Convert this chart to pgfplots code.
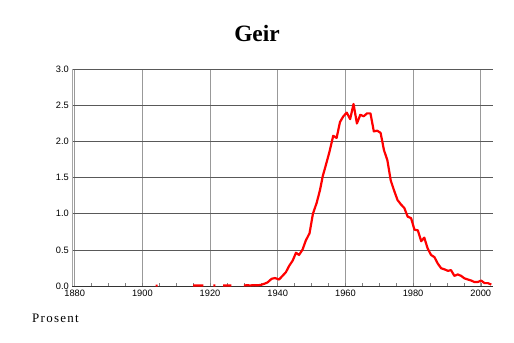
\documentclass[border=0pt]{standalone}
\usepackage{fontspec}
\setmainfont{Liberation Serif}
\newfontfamily\arial{Liberation Sans}
\usepackage{pgfplots}
\pgfplotsset{compat=1.18}
\begin{document}
\begin{tikzpicture}
\path[use as bounding box] (-72.3bp,-57bp) rectangle (441.7bp,286bp);
\begin{axis}[
  at={(0,0)}, anchor=south west,
  scale only axis, width=421bp, height=216.7bp,
  xmin=1879.3, xmax=2003.7, ymin=0, ymax=3,
  axis x line=bottom, axis y line=left,
  x axis line style={-, black!80, line width=0.6pt},
  y axis line style={-, gray!70, line width=0.6pt},
  xtick={1880,1900,...,2000},
  ytick={0,0.5,...,3},
  minor xtick={1885,1890,...,2000},
  major tick length=0pt,
  minor tick length=3bp,
  tick align=inside,
  minor tick style={black!50, line width=0.5pt},
  grid=major,
  x grid style={black!40, line width=0.6pt},
  y grid style={black!65, line width=0.6pt},
  unbounded coords=jump,
  tick label style={font=\arial\fontsize{9.3}{10}\selectfont},
  /pgf/number format/assume math mode=true,
  xticklabel style={/pgf/number format/set thousands separator={}, yshift=-1bp},
  yticklabel style={/pgf/number format/fixed, /pgf/number format/fixed zerofill, /pgf/number format/precision=1},
  clip=false,
]
\addplot[red, line width=2.2pt, line join=round] coordinates {
(1903.9,0.005) (1904.5,0.005) (1905,nan)
(1915,0.006) (1916,0.006) (1917,0.006) (1918,0.006) (1919,nan)
(1921.0,0.006) (1921.6,0.006) (1922,nan)
(1923.9,0.008) (1925,0.008) (1926.3,0.006) (1928,nan)
(1930.0,0.008) (1931,0.01) (1932,0.008) (1933,0.012) (1934,0.01) (1935,0.015)
(1936,0.03) (1937,0.05) (1938.2,0.1) (1939.2,0.11) (1940.4,0.09) (1941.4,0.14)
(1942.4,0.19) (1943.4,0.28) (1944.4,0.35) (1945.4,0.46) (1946.3,0.43) (1947.3,0.5)
(1948.3,0.63) (1949.4,0.73) (1950.4,1.0) (1951.5,1.15) (1952.5,1.33) (1953.3,1.52)
(1954.2,1.67) (1955.3,1.86) (1956.4,2.08) (1957.4,2.05) (1958.4,2.27) (1959.4,2.35)
(1960.4,2.40) (1961.4,2.31) (1962.4,2.52) (1963.4,2.25) (1964.4,2.37) (1965.4,2.35)
(1966.4,2.39) (1967.4,2.39) (1968.4,2.14) (1969.4,2.15) (1970.4,2.12) (1971.4,1.88)
(1972.4,1.74) (1973.4,1.46) (1974.4,1.32) (1975.4,1.19) (1976.4,1.13) (1977.4,1.08)
(1978.4,0.96) (1979.4,0.94) (1980.4,0.78) (1981.4,0.77) (1982.4,0.62) (1983.3,0.67)
(1984.3,0.52) (1985.3,0.43) (1986.3,0.40) (1987.3,0.31) (1988.3,0.245) (1989.3,0.23)
(1990.3,0.21) (1991.2,0.22) (1992.2,0.14) (1993.2,0.16) (1994.2,0.14) (1995.2,0.105)
(1996.2,0.09) (1997.2,0.075) (1998.1,0.055) (1999.1,0.055) (2000.1,0.075) (2001.1,0.04)
(2002.1,0.04) (2003.1,0.02)
};
\end{axis}
\node[anchor=center, font=\bfseries\fontsize{23.5}{26}\selectfont] at (184.7bp,253bp) {Geir};
\node[anchor=base west, inner sep=0pt, font=\fontsize{13}{15}\selectfont\addfontfeature{LetterSpace=10}] at (-40.3bp,-36.3bp) {Prosent};
\end{tikzpicture}
\end{document}
